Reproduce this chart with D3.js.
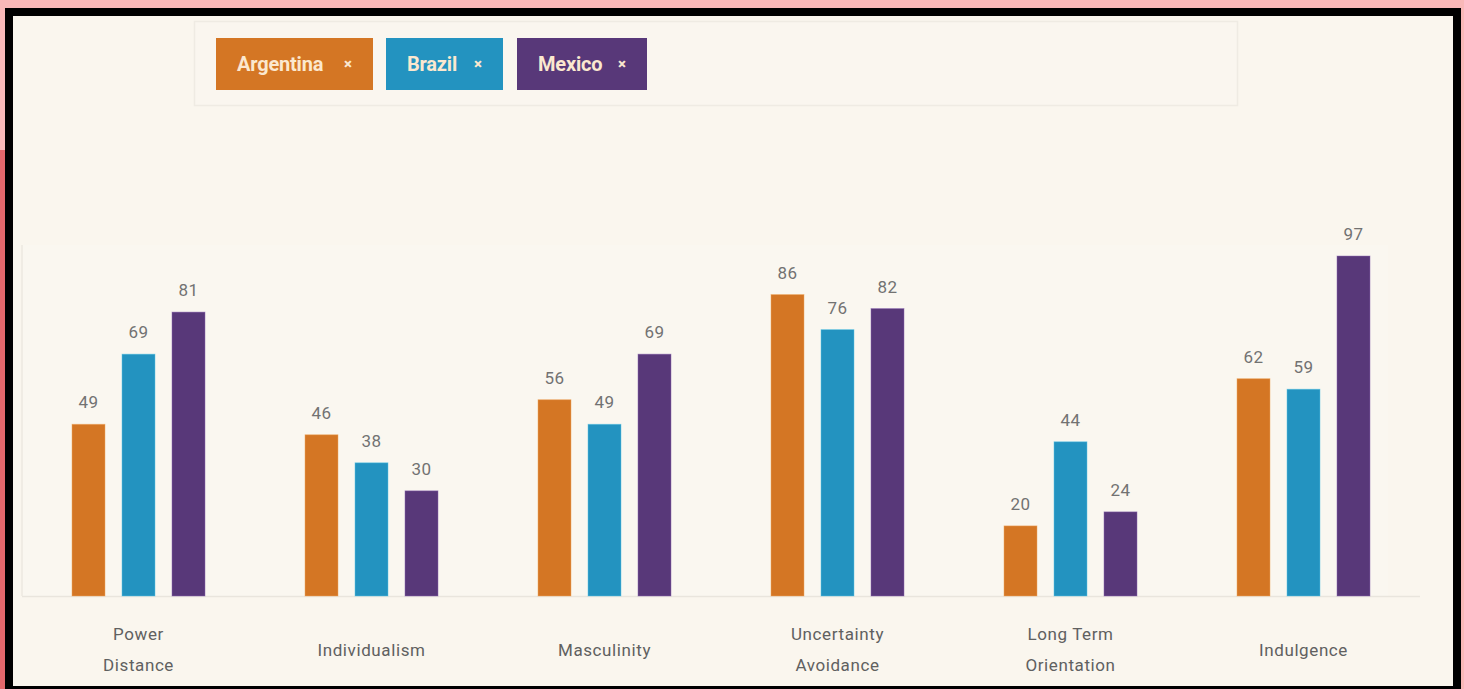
<!DOCTYPE html>
<html>
<head>
<meta charset="utf-8">
<script src="https://cdn.jsdelivr.net/npm/d3@7"></script>
<style>
  html, body { margin: 0; padding: 0; background: #f9b8b8; }
  svg { display: block; }
</style>
</head>
<body>
<svg id="chart" width="1464" height="689"></svg>
<script>
// Hofstede cultural dimension scores
const dimensions = ["Power Distance", "Individualism", "Masculinity", "Uncertainty Avoidance", "Long Term Orientation", "Indulgence"];
const dimensionLines = [["Power", "Distance"], ["Individualism"], ["Masculinity"], ["Uncertainty", "Avoidance"], ["Long Term", "Orientation"], ["Indulgence"]];
const countries = ["Argentina", "Brazil", "Mexico"];
const argentina = [49, 46, 56, 86, 20, 62];
const brazil = [69, 38, 49, 76, 44, 59];
const mexico = [81, 30, 69, 82, 24, 97];
const countryColors = ["#d47624", "#2393c0", "#583879"];
const countryEdges = ["#f0a860", "#5cc6e6", "#8a68b0"];

const seriesValues = [argentina, brazil, mexico];
const svg = d3.select("#chart");

// page frame: pink surround, black border, cream card
svg.append("rect").attr("x", 0).attr("y", 0).attr("width", 1464).attr("height", 689).attr("fill", "#f9b8b8");
svg.append("rect").attr("x", 0).attr("y", 150).attr("width", 6).attr("height", 539).attr("fill", "#e4676b");
svg.append("rect").attr("x", 5).attr("y", 8).attr("width", 1456).attr("height", 690).attr("fill", "#000");
svg.append("rect").attr("x", 13).attr("y", 16).attr("width", 1440).attr("height", 670).attr("fill", "#faf6ee");

// legend panel with removable country chips
svg.append("rect").attr("x", 194.5).attr("y", 21.5).attr("width", 1043).attr("height", 84)
  .attr("fill", "#faf6ef").attr("stroke", "#efebe3").attr("stroke-width", 1.5);

const chipX = [216, 386, 517];
const chipW = [157, 117, 130];
const chip = svg.append("g").selectAll("g").data(countries).join("g")
  .attr("transform", (d, i) => `translate(${chipX[i]},38)`);
chip.append("rect").attr("width", (d, i) => chipW[i]).attr("height", 52)
  .attr("fill", (d, i) => countryColors[i]);
chip.append("text").attr("x", 21).attr("y", 26).attr("dy", "0.36em")
  .attr("font-family", "Roboto, sans-serif").attr("font-weight", 700).attr("font-size", 20)
  .attr("letter-spacing", -0.2)
  .attr("fill", "#fbe8cf").text(d => d);
chip.append("text").attr("x", (d, i) => chipW[i] - 25).attr("y", 26).attr("dy", "0.36em")
  .attr("text-anchor", "middle")
  .attr("font-family", "Roboto, sans-serif").attr("font-weight", 900).attr("font-size", 15)
  .attr("fill", "#fbe8cf").text("×");

// plot geometry
const x0 = d3.scaleBand().domain(dimensions).range([22, 1420]).paddingInner(0).paddingOuter(0);
const x1 = d3.scaleBand().domain(countries).range([-75, 75]).paddingInner(0.34).paddingOuter(0.17);
const y = d3.scaleLinear().domain([0, 100]).range([596, 245.5]);

// faint plot background and axes
svg.append("rect").attr("x", 22).attr("y", 245).attr("width", 1366).attr("height", 351).attr("fill", "#faf7f0");
svg.append("line").attr("x1", 22).attr("x2", 22).attr("y1", 245).attr("y2", 596)
  .attr("stroke", "#ece8e0").attr("stroke-width", 1.5);
svg.append("line").attr("x1", 22).attr("x2", 1420).attr("y1", 596.5).attr("y2", 596.5)
  .attr("stroke", "#e9e5dd").attr("stroke-width", 1.5);

const groups = svg.append("g").selectAll("g").data(dimensions).join("g")
  .attr("transform", d => `translate(${x0(d) + x0.bandwidth() / 2},0)`);

const bars = groups.selectAll("g").data((d, di) => countries.map((c, ci) => ({ c, ci, v: seriesValues[ci][di] })))
  .join("g");

bars.append("rect")
  .attr("x", d => x1(d.c)).attr("width", x1.bandwidth())
  .attr("y", d => y(d.v)).attr("height", d => y(0) - y(d.v))
  .attr("fill", d => countryColors[d.ci])
  .attr("stroke", d => countryEdges[d.ci]).attr("stroke-width", 0.8).attr("stroke-opacity", 0.6);

bars.append("text")
  .attr("x", d => x1(d.c) + x1.bandwidth() / 2)
  .attr("y", d => y(d.v) - 22).attr("dy", "0.36em")
  .attr("text-anchor", "middle")
  .attr("font-family", "Roboto, sans-serif").attr("font-size", 17)
  .attr("letter-spacing", 0.4)
  .attr("fill", "#727272").text(d => d.v);

// category labels under each group
const labels = groups.append("text")
  .attr("text-anchor", "middle")
  .attr("font-family", "Roboto, sans-serif").attr("font-size", 17)
  .attr("letter-spacing", 0.6)
  .attr("fill", "#606060");
labels.each(function (d, i) {
  const lines = dimensionLines[i];
  const startY = lines.length === 1 ? 650 : 634;
  d3.select(this).selectAll("tspan").data(lines).join("tspan")
    .attr("x", 0).attr("y", (l, k) => startY + k * 31).attr("dy", "0.36em").text(l => l);
});
</script>
</body>
</html>
